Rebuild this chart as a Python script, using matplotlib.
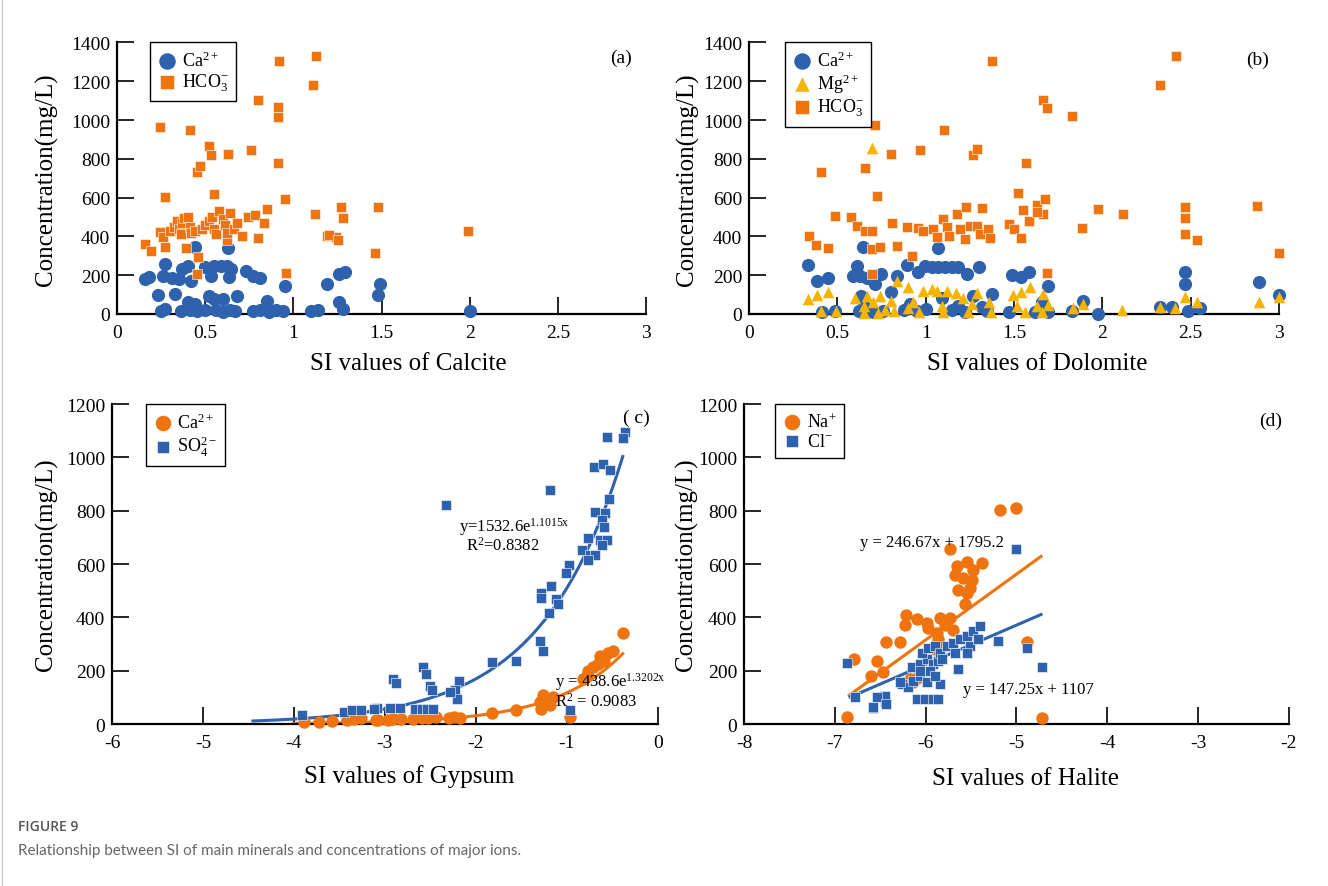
"""
SI of main minerals vs. concentrations of major ions
four scatter panels (a)-(d)
"""

import numpy as np
import matplotlib
matplotlib.use("Agg")
import matplotlib.pyplot as plt
from matplotlib.ticker import FormatStrFormatter, MultipleLocator

## colours
BLUE = "#2E62AE"
ORANGE = "#EF7410"
YELLOW = "#F4B400"

## (a) SI calcite
calcite_ca_x = [0.16, 0.18, 0.23, 0.25, 0.27, 0.26, 0.27, 0.31, 0.33, 0.35, 0.36, 0.37, 0.40, 0.40,
                0.41, 0.42, 0.44, 0.44, 0.45, 0.50, 0.50, 0.52, 0.53, 0.55, 0.55, 0.56, 0.59, 0.60,
                0.60, 0.62, 0.63, 0.635, 0.64, 0.645, 0.67, 0.68, 0.73, 0.77, 0.77, 0.81, 0.81, 0.85,
                0.86, 0.90, 0.94, 0.95, 1.10, 1.14, 1.19, 1.26, 1.26, 1.28, 1.29, 1.48, 1.49, 2.0]
calcite_ca_y = [181, 190, 98, 17, 26, 198, 258, 184, 103, 181, 15, 232, 249, 60,
                20, 172, 344, 52, 15, 241, 20, 95, 198, 249, 77, 18, 249, 77,
                12, 249, 339, 190, 20, 232, 15, 91, 224, 198, 15, 184, 20, 69,
                12, 18, 15, 146, 15, 20, 155, 207, 60, 26, 215, 100, 155, 17]
calcite_hco3_x = [0.16, 0.19, 0.24, 0.26, 0.24, 0.27, 0.27, 0.30, 0.32, 0.34, 0.35, 0.37, 0.38, 0.36,
                  0.39, 0.40, 0.41, 0.41, 0.42, 0.44, 0.45, 0.47, 0.45, 0.46, 0.48, 0.50, 0.52, 0.53,
                  0.52, 0.54, 0.55, 0.55, 0.56, 0.58, 0.60, 0.61, 0.62, 0.62, 0.63, 0.64, 0.66, 0.68,
                  0.71, 0.76, 0.74, 0.78, 0.80, 0.80, 0.83, 0.85, 0.91, 0.91, 0.92, 0.91, 0.95, 0.96,
                  1.11, 1.13, 1.12, 1.19, 1.24, 1.27, 1.28, 1.20, 1.25, 1.46, 1.48, 1.99]
calcite_hco3_y = [362, 327, 422, 396, 965, 603, 344, 430, 450, 480, 440, 470, 495, 410,
                  339, 500, 950, 450, 420, 430, 732, 763, 207, 296, 440, 460, 866, 818,
                  480, 500, 621, 440, 410, 530, 490, 460, 379, 420, 826, 520, 440, 470,
                  400, 847, 500, 510, 1102, 390, 470, 540, 1068, 1016, 1303, 778, 594, 212,
                  1183, 1331, 513, 404, 396, 554, 494, 408, 384, 315, 554, 429]

## (b) SI dolomite
dolomite_ca_x = [0.336, 0.387, 0.449, 0.411, 0.487, 0.647, 0.609, 0.59, 0.628, 0.666, 0.713, 0.745,
                 0.634, 0.653, 0.62, 0.70, 0.76, 0.803, 0.84, 0.897, 0.954, 0.996, 1.034, 1.071,
                 1.109, 1.147, 1.185, 1.232, 1.068, 1.303, 0.911, 1.09, 1.185, 1.27, 1.374, 1.317,
                 0.88, 0.95, 1.0, 1.15, 1.22, 1.35, 1.49, 1.537, 1.587, 1.69, 1.656, 1.47,
                 1.62, 1.69, 1.83, 1.892, 1.977, 2.326, 2.396, 2.466, 2.466, 2.486, 2.552, 2.886, 3.0]
dolomite_ca_y = [253, 172, 184, 12, 17, 344, 246, 198, 195, 184, 155, 207,
                 95, 43, 15, 12, 15, 112, 198, 253, 218, 249, 241, 241,
                 241, 241, 241, 207, 339, 241, 52, 81, 43, 95, 103, 34,
                 20, 15, 25, 20, 10, 15, 201, 190, 215, 146, 60, 10,
                 10, 10, 15, 69, 0, 35, 35, 215, 155, 17, 29, 164, 100]
dolomite_mg_x = [0.698, 0.336, 0.387, 0.449, 0.41, 0.49, 0.6, 0.666, 0.741, 0.803, 0.65, 0.70,
                 0.65, 0.73, 0.77, 0.82, 0.836, 0.898, 0.93, 0.90, 0.96, 0.986, 1.034, 1.062,
                 1.09, 1.10, 1.12, 1.17, 1.21, 1.29, 1.26, 1.24, 1.36, 1.37, 1.496, 1.537,
                 1.59, 1.666, 1.628, 1.694, 1.562, 1.656, 1.515, 1.835, 1.892, 2.11, 2.326, 2.41,
                 2.466, 2.534, 2.888, 3.0]
dolomite_mg_y = [856, 77, 98, 115, 15, 15, 81, 95, 95, 69, 40, 60,
                 5, 5, 20, 15, 172, 141, 60, 30, 10, 120, 129, 120,
                 40, 10, 120, 110, 80, 110, 50, 10, 60, 10, 98, 115,
                 138, 103, 43, 46, 9, 9, 40, 29, 52, 21, 35, 29,
                 86, 64, 64, 89]
dolomite_hco3_x = [0.341, 0.382, 0.406, 0.448, 0.486, 0.58, 0.609, 0.656, 0.699, 0.656, 0.716, 0.722,
                   0.699, 0.741, 0.694, 0.803, 0.809, 0.84, 0.897, 0.922, 0.967, 0.958, 0.986, 1.043,
                   1.062, 1.105, 1.10, 1.12, 1.13, 1.175, 1.194, 1.228, 1.251, 1.222, 1.27, 1.29,
                   1.289, 1.32, 1.307, 1.354, 1.367, 1.376, 1.473, 1.5, 1.537, 1.524, 1.566, 1.553,
                   1.587, 1.628, 1.675, 1.666, 1.628, 1.666, 1.685, 1.826, 1.685, 1.886, 1.975, 2.119,
                   2.326, 2.415, 2.466, 2.466, 2.466, 2.534, 2.878, 3.0]
dolomite_hco3_y = [404, 356, 732, 339, 503, 499, 456, 430, 430, 752, 972, 606,
                   336, 344, 207, 826, 468, 348, 451, 301, 844, 443, 430, 439,
                   396, 947, 491, 448, 404, 517, 439, 551, 456, 387, 818, 849,
                   456, 547, 413, 439, 391, 1305, 465, 439, 391, 623, 778, 537,
                   477, 563, 594, 517, 525, 1105, 1062, 1021, 212, 443, 542, 513,
                   1183, 1331, 554, 496, 410, 384, 556, 315]

## (c) SI gypsum
gypsum_ca_x = [-0.385, -0.493, -0.552, -0.633, -0.596, -0.652, -0.707, -0.763, -0.781, -0.819,
               -1.263, -1.3, -1.226, -1.152, -1.189, -1.281, -0.967, -1.559, -1.819, -2.244,
               -2.3, -2.17, -2.44, -2.522, -2.596, -2.689, -2.819, -2.911, -2.967, -3.078,
               -3.89, -3.726, -3.578, -3.411, -3.337, -3.263, -3.096]
gypsum_ca_y = [343, 275, 265, 256, 237, 225, 212, 200, 181, 169,
               107, 82, 88, 101, 70, 57, 26, 51, 41, 28,
               24, 22, 25, 22, 24, 20, 20, 18, 15, 14,
               7, 7, 11, 16, 20, 23, 14]
gypsum_so4_x = [-0.356, -0.386, -0.559, -0.7, -0.604, -0.522, -1.181, -2.33, -0.541, -0.689,
                -0.578, -0.615, -0.596, -0.763, -0.633, -0.559, -0.615, -0.837, -0.744, -0.689,
                -0.763, -0.974, -1.004, -1.17, -1.281, -1.281, -1.115, -1.096, -1.196, -1.3,
                -1.263, -1.559, -1.819, -2.189, -2.226, -2.207, -2.281, -2.5, -2.48, -2.578,
                -2.548, -2.911, -2.874, -3.085, -2.948, -2.837, -2.67, -2.596, -2.541, -2.467,
                -0.967, -3.911, -3.448, -3.356, -3.263, -3.115]
gypsum_so4_y = [1095, 1073, 1078, 964, 974, 952, 877, 821, 843, 794,
                790, 765, 740, 697, 691, 691, 672, 653, 635, 635,
                616, 598, 567, 517, 492, 473, 467, 451, 417, 312,
                272, 237, 234, 163, 126, 94, 119, 144, 126, 212,
                188, 169, 153, 60, 60, 60, 55, 55, 55, 55,
                51, 32, 45, 51, 53, 57]
## exponential fits y = a*exp(b*x)
so4_fit = (1532.6, 1.1015)
so4_fit_range = (-4.45, -0.385)
ca_fit = (438.6, 1.3202)
ca_fit_range = (-4.0, -0.385)

## (d) SI halite
halite_na_x = [-5.181, -5.004, -5.731, -5.658, -5.548, -5.383, -5.475, -5.676, -5.585, -5.493,
               -5.639, -5.511, -5.548, -5.571, -6.216, -6.227, -6.098, -5.988, -5.97, -5.841,
               -5.731, -5.786, -5.694, -5.877, -5.859, -5.877, -5.896, -6.436, -6.282, -6.785,
               -6.539, -6.473, -6.605, -6.172, -6.098, -6.135, -4.887, -6.869, -4.721]
halite_na_y = [802, 811, 656, 591, 609, 603, 578, 560, 547, 541,
               504, 510, 491, 451, 410, 373, 392, 379, 361, 398,
               398, 373, 354, 342, 317, 299, 280, 309, 309, 245,
               236, 195, 180, 168, 174, 156, 307, 25, 21]
halite_cl_x = [-5.0, -6.869, -6.778, -6.583, -6.447, -6.447, -6.539, -6.098, -6.007, -5.922,
               -5.86, -6.263, -6.19, -6.135, -6.062, -5.988, -5.841, -6.153, -6.062, -5.988,
               -5.915, -5.86, -6.062, -5.952, -5.897, -6.043, -5.97, -5.897, -5.841, -5.822,
               -5.767, -5.694, -5.621, -5.548, -5.475, -5.401, -5.511, -5.676, -5.639, -5.548,
               -5.199, -4.879, -4.721, -6.436, -6.576, -6.282, -5.419]
halite_cl_y = [657, 228, 100, 59, 81, 106, 100, 93, 93, 93,
               93, 149, 137, 162, 180, 156, 149, 212, 224, 243,
               224, 236, 199, 199, 180, 268, 286, 292, 268, 243,
               292, 305, 317, 329, 348, 367, 292, 268, 205, 268,
               313, 286, 214, 75, 62, 156, 317]
## linear fits y = k*x + c
na_fit = (246.67, 1795.2)
na_fit_range = (-6.84, -4.73)
cl_fit = (147.25, 1107)
cl_fit_range = (-6.83, -4.73)


def style_axes(ax, xlim, ylim, xstep, ystep, xlabel, xlabel_pos, ylabel_x):
    ax.set_xlim(*xlim)
    ax.set_ylim(*ylim)
    ax.xaxis.set_major_locator(MultipleLocator(xstep))
    ax.yaxis.set_major_locator(MultipleLocator(ystep))
    ax.xaxis.set_major_formatter(FormatStrFormatter("%g"))
    ax.yaxis.set_major_formatter(FormatStrFormatter("%g"))
    for s in ["top", "right"]:
        ax.spines[s].set_visible(False)
    for s in ["left", "bottom"]:
        ax.spines[s].set_linewidth(1.6)
    ax.tick_params(direction="in", length=12, width=1.2, labelsize=14)
    ax.tick_params(axis="x", pad=7)
    ax.tick_params(axis="y", pad=5)
    ax.set_xlabel(xlabel, fontsize=18)
    ax.set_ylabel("Concentration(mg/L)", fontsize=18)
    ax.xaxis.set_label_coords(*xlabel_pos)
    ax.yaxis.set_label_coords(ylabel_x, 0.5)


def add_legend(ax, x0):
    leg = ax.legend(loc="upper left", bbox_to_anchor=(x0, 1.0), fontsize=13,
                    frameon=True, fancybox=False, edgecolor="black", framealpha=1,
                    borderpad=0.45, borderaxespad=0, handletextpad=0.3,
                    handlelength=1.0, labelspacing=0.1, markerscale=1.25)
    leg.get_frame().set_linewidth(1.0)


def main():
    plt.rcParams["font.family"] = "Liberation Serif"
    plt.rcParams["mathtext.fontset"] = "custom"
    plt.rcParams["mathtext.rm"] = "Liberation Serif"
    plt.rcParams["mathtext.it"] = "Liberation Serif:italic"
    plt.rcParams["axes.unicode_minus"] = False

    fig = plt.figure(figsize=(13.28, 8.87), dpi=100)

    ca_lab = r"Ca$^{\mathrm{2+}}$"
    mg_lab = r"Mg$^{\mathrm{2+}}$"
    hco3_lab = r"HCO$_{\mathrm{3}}^{\mathrm{-}}$"

    ## (a)
    ax = fig.add_axes([0.0883, 0.6449, 0.3981, 0.3061])
    ax.scatter(calcite_ca_x, calcite_ca_y, s=90, c=BLUE, marker="o", lw=0, clip_on=False,
               label=ca_lab, zorder=3)
    ax.scatter(calcite_hco3_x, calcite_hco3_y, s=62, c=ORANGE, marker="s",
               edgecolors="white", linewidths=0.4, clip_on=False, label=hco3_lab, zorder=3)
    style_axes(ax, (0, 3), (0, 1400), 0.5, 200, "SI values of Calcite", (0.55, -0.14), -0.112)
    ax.text(2.86, 1325, "(a)", fontsize=14, ha="center", va="center")
    add_legend(ax, 0.062)

    ## (b)
    ax = fig.add_axes([0.564, 0.6449, 0.3991, 0.3061])
    ax.scatter(dolomite_ca_x, dolomite_ca_y, s=90, c=BLUE, marker="o", lw=0, clip_on=False,
               label=ca_lab, zorder=3)
    ax.scatter(dolomite_mg_x, dolomite_mg_y, s=70, c=YELLOW, marker="^", lw=0, clip_on=False,
               label=mg_lab, zorder=4)
    ax.scatter(dolomite_hco3_x, dolomite_hco3_y, s=62, c=ORANGE, marker="s",
               edgecolors="white", linewidths=0.4, clip_on=False, label=hco3_lab, zorder=3)
    style_axes(ax, (0, 3), (0, 1400), 0.5, 200, "SI values of Dolomite", (0.543, -0.14), -0.094)
    ax.text(2.88, 1315, "(b)", fontsize=14, ha="center", va="center")
    add_legend(ax, 0.068)

    ## (c)
    ax = fig.add_axes([0.0843, 0.1826, 0.411, 0.3608])
    xs = np.linspace(*so4_fit_range, 200)
    ax.plot(xs, so4_fit[0] * np.exp(so4_fit[1] * xs), color=BLUE, lw=2.2, zorder=2)
    xs = np.linspace(*ca_fit_range, 200)
    ax.plot(xs, ca_fit[0] * np.exp(ca_fit[1] * xs), color=ORANGE, lw=2.2, zorder=2)
    ax.scatter(gypsum_ca_x, gypsum_ca_y, s=80, c=ORANGE, marker="o", lw=0, clip_on=False,
               label=ca_lab, zorder=3)
    ax.scatter(gypsum_so4_x, gypsum_so4_y, s=56, c=BLUE, marker="s",
               edgecolors="white", linewidths=0.4, clip_on=False,
               label=r"SO$_{\mathrm{4}}^{\mathrm{2-}}$", zorder=3)
    style_axes(ax, (-6, 0), (0, 1200), 1, 200, "SI values of Gypsum", (0.544, -0.125), -0.099)
    ax.text(-2.19, 742, r"y=1532.6e$^{\mathrm{1.1015x}}$", fontsize=12, ha="left", va="center")
    ax.text(-2.11, 671, r"R$^{\mathrm{2}}$=0.8382", fontsize=12, ha="left", va="center")
    ax.text(-1.13, 162, r"y = 438.6e$^{\mathrm{1.3202x}}$", fontsize=12, ha="left", va="center")
    ax.text(-1.13, 88, r"R$^{\mathrm{2}}$ = 0.9083", fontsize=12, ha="left", va="center")
    ax.text(-0.24, 1150, "( c)", fontsize=14, ha="center", va="center")
    add_legend(ax, 0.062)

    ## (d)
    ax = fig.add_axes([0.5602, 0.1826, 0.4104, 0.3608])
    xs = np.array(na_fit_range)
    ax.plot(xs, na_fit[0] * xs + na_fit[1], color=ORANGE, lw=2.2, zorder=2)
    xs = np.array(cl_fit_range)
    ax.plot(xs, cl_fit[0] * xs + cl_fit[1], color=BLUE, lw=2.2, zorder=2)
    ax.scatter(halite_na_x, halite_na_y, s=80, c=ORANGE, marker="o", lw=0, clip_on=False,
               label=r"Na$^{\mathrm{+}}$", zorder=3)
    ax.scatter(halite_cl_x, halite_cl_y, s=56, c=BLUE, marker="s",
               edgecolors="white", linewidths=0.4, clip_on=False,
               label=r"Cl$^{\mathrm{-}}$", zorder=3)
    style_axes(ax, (-8, -2), (0, 1200), 1, 200, "SI values of Halite", (0.517, -0.135), -0.084)
    ax.text(-6.72, 684, "y = 246.67x + 1795.2", fontsize=12, ha="left", va="center")
    ax.text(-5.585, 131, "y = 147.25x + 1107", fontsize=12, ha="left", va="center")
    ax.text(-2.2, 1138, "(d)", fontsize=14, ha="center", va="center")
    add_legend(ax, 0.057)

    ## caption
    fig.text(18 / 1328, 1 - 827 / 887, "FIGURE 9", fontsize=10, color="#555555",
             family="Open Sans", weight="semibold", ha="left", va="center")
    fig.text(18 / 1328, 1 - 851 / 887,
             "Relationship between SI of main minerals and concentrations of major ions.",
             fontsize=11, color="#666666", family="Lato", ha="left", va="center")
    fig.add_artist(plt.Line2D([2 / 1328, 2 / 1328], [0, 1], color="#cccccc", lw=1))

    fig.savefig("out.png", dpi=100)


if __name__ == "__main__":
    main()
